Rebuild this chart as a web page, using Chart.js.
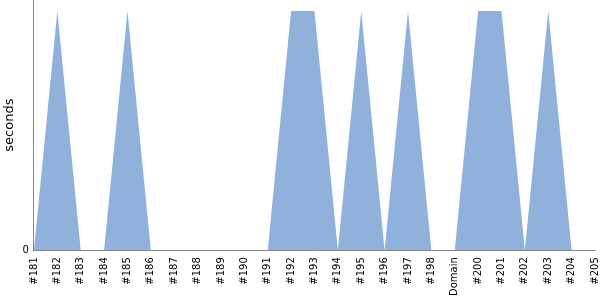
<!DOCTYPE html>
<html><head><meta charset="utf-8">
<script src="https://cdn.jsdelivr.net/npm/chart.js@4"></script>
<style>html,body{margin:0;padding:0;background:#fff}#w{width:600px;height:300px}</style>
</head><body><div id="w"><canvas id="c"></canvas></div>
<script>
const categories = ["#181","#182","#183","#184","#185","#186","#187","#188","#189","#190","#191","#192","#193","#194","#195","#196","#197","#198","Domain","#200","#201","#202","#203","#204","#205"];
const secondsValues = [0,1,0,0,1,0,0,0,0,0,0,1,1,0,1,0,1,0,0,1,1,0,1,0,0];
const yTickLabels = ["0"];

new Chart(document.getElementById('c'), {
  type: 'line',
  data: { labels: categories, datasets: [{
    data: secondsValues, fill: 'origin', backgroundColor: '#8fb1db',
    borderWidth: 0, pointRadius: 0, tension: 0
  }]},
  options: {
    responsive: true, maintainAspectRatio: false, animation: false,
    layout: { padding: { top: 0, right: 0, bottom: 0, left: 2 } },
    plugins: { legend: { display: false }, tooltip: { enabled: false } },
    scales: {
      x: {
        grid: { display: false, drawTicks: false },
        border: { color: '#888' },
        afterFit: (s) => { s.paddingRight = 5; s.paddingLeft = 0; s.height -= 3; },
        ticks: { maxRotation: 90, minRotation: 90, autoSkip: false, color: '#000', padding: 7,
          font: { family: 'DejaVu Sans', size: 10 } }
      },
      y: {
        min: 0, max: 1.046,
        afterBuildTicks: (s) => { s.ticks = yTickLabels.map(t => ({ value: Number(t) })); },
        afterFit: (s) => { s.paddingTop = 0; s.paddingBottom = 0; },
        grid: { display: false, drawTicks: false },
        border: { color: '#888' },
        ticks: { color: '#000', padding: 5, font: { family: 'DejaVu Sans', size: 10 } },
        title: { display: true, text: 'seconds', color: '#000', padding: 0,
          font: { family: 'DejaVu Sans', size: 13 } }
      }
    }
  }
});
</script></body></html>
